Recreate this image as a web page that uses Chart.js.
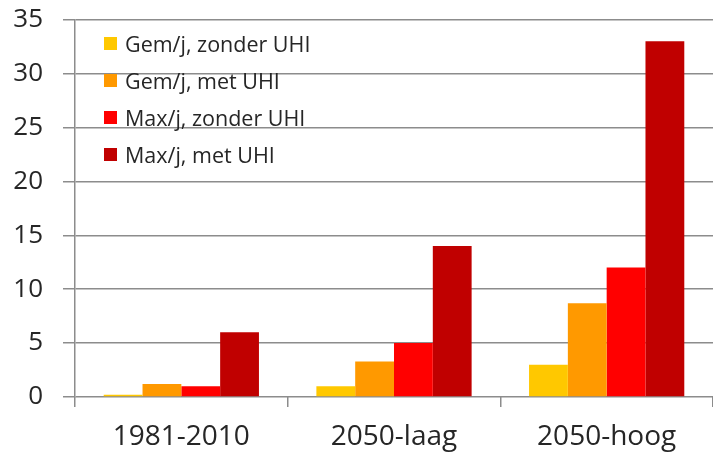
<!DOCTYPE html>
<html>
<head>
<meta charset="utf-8">
<script src="https://cdn.jsdelivr.net/npm/chart.js@4"></script>
<style>
  html, body { margin: 0; padding: 0; background: #fff; }
  #wrap { position: relative; width: 713px; height: 457px; overflow: hidden; }
  #chart { position: absolute; left: 0; top: -16px; }
  #legend { position: absolute; left: 104px; top: 25px; font-family: "Open Sans", "Liberation Sans", sans-serif; font-size: 21.5px; color: #262626; }
  #legend div { height: 37px; display: flex; align-items: center; }
  #legend span { display: inline-block; width: 13px; height: 13px; margin-right: 8px; }
</style>
</head>
<body>
<div id="wrap">
  <canvas id="chart" width="713" height="473"></canvas>
  <div id="legend"></div>
</div>
<script>
const categories = ['1981-2010', '2050-laag', '2050-hoog'];
const seriesNames = ['Gem/j, zonder UHI', 'Gem/j, met UHI', 'Max/j, zonder UHI', 'Max/j, met UHI'];
const gemZonder = [0.2, 1.0, 3.0];
const gemMet = [1.2, 3.3, 8.7];
const maxZonder = [1.0, 5.0, 12.0];
const maxMet = [6.0, 14.0, 33.0];
const yTicks = [0, 5, 10, 15, 20, 25, 30, 35];
const colors = ['#FFC800', '#FF9900', '#FF0000', '#C00000'];

const seriesValues = [gemZonder, gemMet, maxZonder, maxMet];
const gridColor = '#8c8c8c';
const font = '"Open Sans", "Liberation Sans", sans-serif';

const ctx = document.getElementById('chart').getContext('2d');
const chart = new Chart(ctx, {
    type: 'bar',
    data: {
        labels: categories,
        datasets: seriesValues.map((vals, i) => ({
            label: seriesNames[i],
            data: vals,
            backgroundColor: colors[i],
            borderWidth: 0,
            categoryPercentage: 0.73,
            barPercentage: 1
        }))
    },
    options: {
        responsive: false,
        animation: false,
        layout: { padding: 0 },
        plugins: {
            legend: { display: false },
            tooltip: { enabled: false }
        },
        scales: {
            x: {
                grid: {
                    offset: true,
                    drawOnChartArea: false,
                    color: gridColor,
                    tickLength: 10,
                    lineWidth: 1.5
                },
                border: { display: false },
                ticks: {
                    color: '#262626',
                    padding: 13,
                    font: { family: font, size: 28 }
                },
                afterFit: (scale) => { scale.height = 60; }
            },
            y: {
                min: yTicks[0],
                max: yTicks[yTicks.length - 1],
                afterBuildTicks: (scale) => { scale.ticks = yTicks.map(v => ({ value: v })); },
                ticks: {
                    color: '#262626',
                    padding: 20,
                    font: { family: font, size: 26 }
                },
                grid: {
                    color: gridColor,
                    tickLength: 12,
                    lineWidth: 1.5
                },
                border: { display: true, color: gridColor, width: 1.5 },
                afterFit: (scale) => { scale.width = 75; }
            }
        }
    }
});

// legend inside the plot area
const legendEl = document.getElementById('legend');
seriesNames.forEach((name, i) => {
    const row = document.createElement('div');
    row.innerHTML = `<span style="background:${colors[i]}"></span>${name}`;
    legendEl.appendChild(row);
});
</script>
</body>
</html>
